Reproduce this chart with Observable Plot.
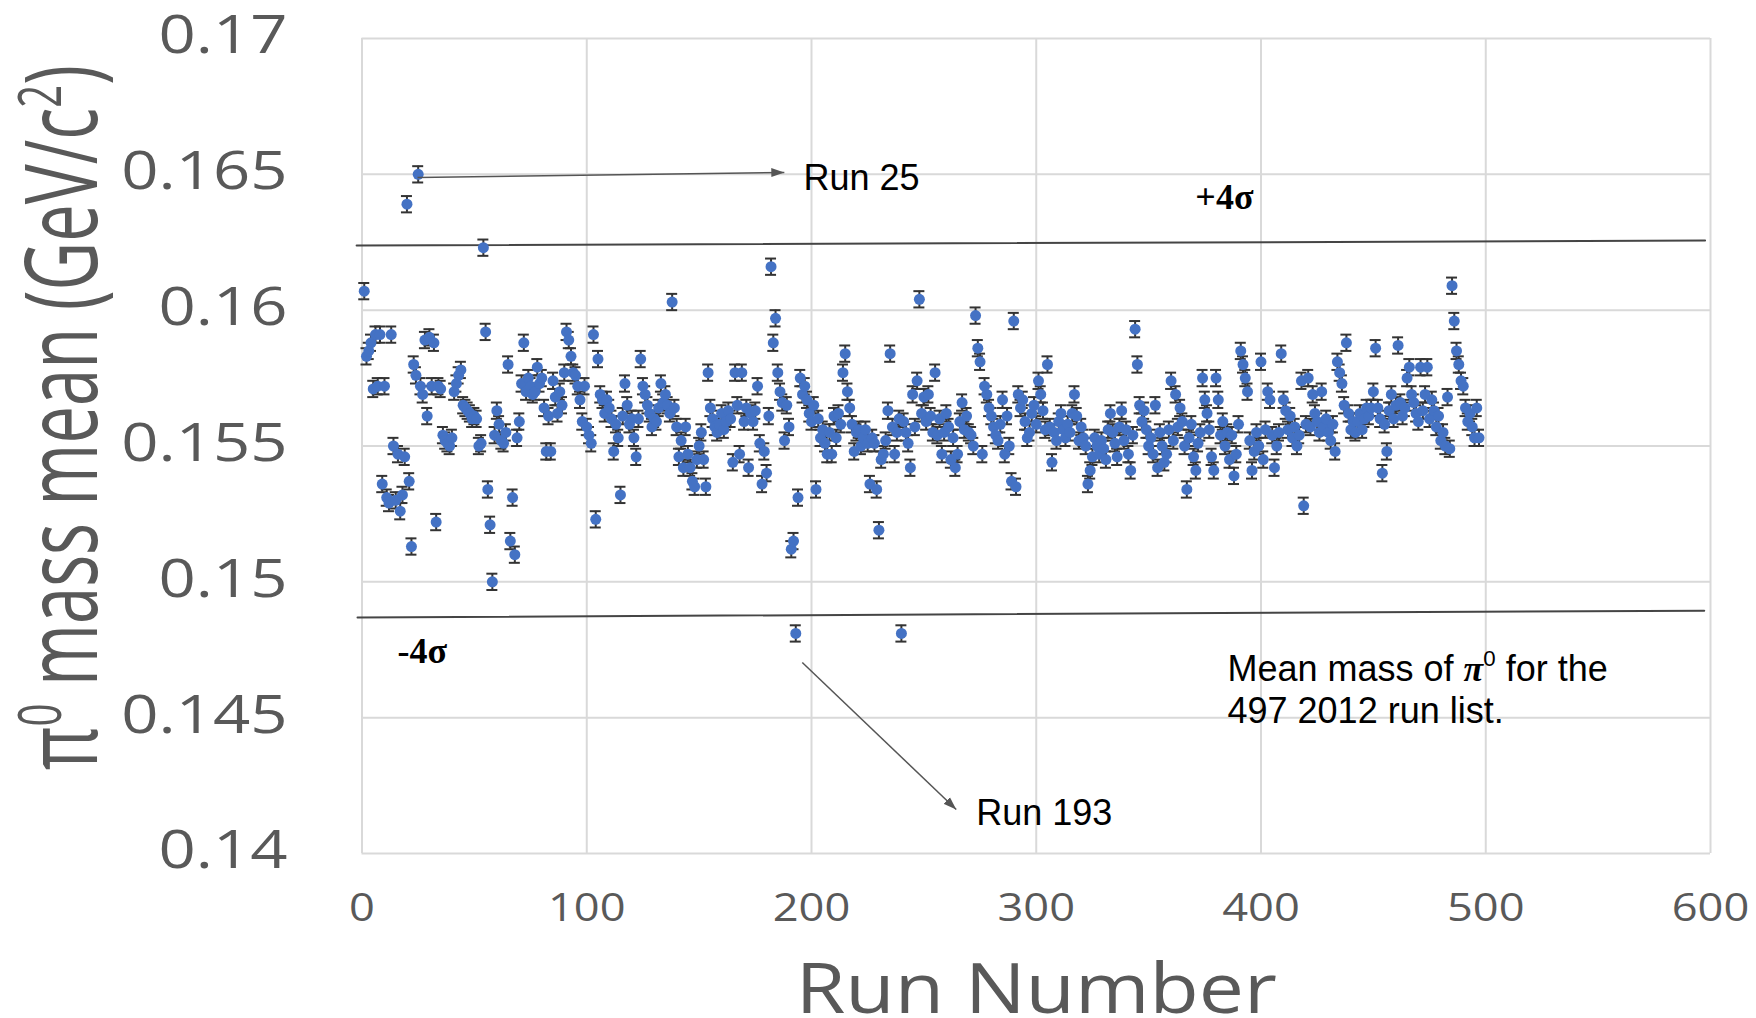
<!DOCTYPE html>
<html>
<head>
<meta charset="utf-8">
<script src="https://cdn.jsdelivr.net/npm/d3@7"></script>
<script src="https://cdn.jsdelivr.net/npm/@observablehq/plot@0.6"></script>
<style>
  html, body { margin: 0; padding: 0; background: #ffffff; }
  #chart { width: 1756px; height: 1018px; }
</style>
</head>
<body>
<div id="chart"></div>
<script>
// Mean π0 mass (GeV/c²) per run, runs 1 … 497 of the 2012 list
const massMean = [
  0.1607, 0.1583, 0.1585, 0.1588, 0.1571, 0.1591, 0.1572, 0.1591, 0.1536, 0.1572,
  0.1531, 0.1529, 0.1591, 0.1550, 0.1530, 0.1547, 0.1526, 0.1532, 0.1546, 0.1639,
  0.1537, 0.1513, 0.1580, 0.1576, 0.1650, 0.1572, 0.1569, 0.1589, 0.1561, 0.1590,
  0.1572, 0.1588, 0.1522, 0.1572, 0.1571, 0.1554, 0.1552, 0.1551, 0.1550, 0.1553,
  0.1570, 0.1573, 0.1576, 0.1578, 0.1565, 0.1564, 0.1563, 0.1562, 0.1560, 0.1561,
  0.1560, 0.1550, 0.1551, 0.1623, 0.1592, 0.1534, 0.1521, 0.1500, 0.1554, 0.1563,
  0.1558, 0.1552, 0.1551, 0.1555, 0.1580, 0.1515, 0.1531, 0.1510, 0.1553, 0.1559,
  0.1573, 0.1588, 0.1570, 0.1575, 0.1572, 0.1569, 0.1570, 0.1579, 0.1573, 0.1575,
  0.1564, 0.1548, 0.1561, 0.1548, 0.1574, 0.1568, 0.1562, 0.1570, 0.1565, 0.1577,
  0.1592, 0.1589, 0.1583, 0.1577, 0.1576, 0.1572, 0.1567, 0.1559, 0.1572, 0.1557,
  0.1554, 0.1551, 0.1591, 0.1523, 0.1582, 0.1569, 0.1567, 0.1562, 0.1567, 0.1564,
  0.1560, 0.1548, 0.1558, 0.1553, 0.1532, 0.1561, 0.1573, 0.1565, 0.1558, 0.1560,
  0.1553, 0.1546, 0.1560, 0.1582, 0.1572, 0.1569, 0.1565, 0.1562, 0.1557, 0.1560,
  0.1559, 0.1564, 0.1573, 0.1566, 0.1569, 0.1565, 0.1562, 0.1603, 0.1564, 0.1557,
  0.1546, 0.1552, 0.1542, 0.1557, 0.1547, 0.1542, 0.1537, 0.1535, 0.1545, 0.1550,
  0.1555, 0.1545, 0.1535, 0.1577, 0.1564, 0.1560, 0.1557, 0.1555, 0.1558, 0.1562,
  0.1556, 0.1559, 0.1563, 0.1560, 0.1544, 0.1577, 0.1565, 0.1547, 0.1577, 0.1559,
  0.1564, 0.1542, 0.1562, 0.1559, 0.1563, 0.1572, 0.1551, 0.1536, 0.1548, 0.1540,
  0.1561, 0.1616, 0.1588, 0.1597, 0.1577, 0.1570, 0.1566, 0.1552, 0.1565, 0.1557,
  0.1512, 0.1515, 0.1481, 0.1531, 0.1575, 0.1569, 0.1572, 0.1567, 0.1562, 0.1559,
  0.1565, 0.1534, 0.1560, 0.1553, 0.1556, 0.1551, 0.1547, 0.1555, 0.1547, 0.1561,
  0.1553, 0.1562, 0.1558, 0.1577, 0.1584, 0.1570, 0.1564, 0.1558, 0.1548, 0.1555,
  0.1556, 0.1550, 0.1553, 0.1556, 0.1551, 0.1536, 0.1553, 0.1551, 0.1534, 0.1519,
  0.1545, 0.1547, 0.1552, 0.1563, 0.1584, 0.1557, 0.1547, 0.1555, 0.1560, 0.1481,
  0.1559, 0.1555, 0.1551, 0.1542, 0.1569, 0.1557, 0.1574, 0.1604, 0.1562, 0.1568,
  0.1559, 0.1569, 0.1561, 0.1555, 0.1577, 0.1554, 0.1560, 0.1547, 0.1555, 0.1562,
  0.1557, 0.1545, 0.1553, 0.1542, 0.1547, 0.1559, 0.1566, 0.1556, 0.1561, 0.1555,
  0.1554, 0.1550, 0.1598, 0.1586, 0.1581, 0.1547, 0.1572, 0.1569, 0.1564, 0.1561,
  0.1557, 0.1554, 0.1552, 0.1558, 0.1567, 0.1547, 0.1561, 0.1550, 0.1537, 0.1596,
  0.1535, 0.1569, 0.1564, 0.1567, 0.1559, 0.1553, 0.1555, 0.1562, 0.1565, 0.1558,
  0.1574, 0.1569, 0.1563, 0.1556, 0.1580, 0.1557, 0.1544, 0.1555, 0.1552, 0.1559,
  0.1562, 0.1556, 0.1553, 0.1558, 0.1555, 0.1562, 0.1569, 0.1561, 0.1552, 0.1557,
  0.1553, 0.1550, 0.1536, 0.1541, 0.1546, 0.1553, 0.1550, 0.1547, 0.1552, 0.1549,
  0.1545, 0.1556, 0.1562, 0.1555, 0.1551, 0.1546, 0.1557, 0.1563, 0.1552, 0.1556,
  0.1547, 0.1541, 0.1554, 0.1593, 0.1580, 0.1565, 0.1559, 0.1563, 0.1556, 0.1550,
  0.1553, 0.1547, 0.1565, 0.1542, 0.1555, 0.1550, 0.1544, 0.1547, 0.1556, 0.1574,
  0.1552, 0.1569, 0.1557, 0.1564, 0.1559, 0.1550, 0.1534, 0.1553, 0.1558, 0.1546,
  0.1541, 0.1551, 0.1555, 0.1575, 0.1567, 0.1562, 0.1556, 0.1546, 0.1541, 0.1575,
  0.1567, 0.1554, 0.1559, 0.1550, 0.1555, 0.1545, 0.1554, 0.1539, 0.1547, 0.1558,
  0.1585, 0.1580, 0.1575, 0.1570, 0.1552, 0.1541, 0.1548, 0.1555, 0.1550, 0.1581,
  0.1545, 0.1556, 0.1570, 0.1567, 0.1554, 0.1542, 0.1550, 0.1555, 0.1584, 0.1567,
  0.1563, 0.1556, 0.1561, 0.1553, 0.1557, 0.1550, 0.1554, 0.1574, 0.1528, 0.1558,
  0.1575, 0.1557, 0.1569, 0.1562, 0.1559, 0.1555, 0.1570, 0.1557, 0.1560, 0.1555,
  0.1552, 0.1558, 0.1548, 0.1581, 0.1577, 0.1573, 0.1565, 0.1588, 0.1562, 0.1556,
  0.1559, 0.1555, 0.1559, 0.1562, 0.1556, 0.1560, 0.1564, 0.1561, 0.1564, 0.1570,
  0.1586, 0.1564, 0.1560, 0.1540, 0.1558, 0.1548, 0.1563, 0.1569, 0.1560, 0.1565,
  0.1587, 0.1566, 0.1561, 0.1564, 0.1575, 0.1579, 0.1569, 0.1566, 0.1562, 0.1559,
  0.1579, 0.1563, 0.1569, 0.1579, 0.1560, 0.1567, 0.1563, 0.1557, 0.1561, 0.1552,
  0.1555, 0.1550, 0.1568, 0.1549, 0.1609, 0.1596, 0.1585, 0.1580, 0.1574, 0.1572,
  0.1564, 0.1559, 0.1562, 0.1557, 0.1553, 0.1564, 0.1553
];
const runNumber = massMean.map((_, i) => i + 1);
// Statistical uncertainty on each fitted mean (GeV/c²)
const massError = 0.0003;

// Axis ticks
const xTicks = [0, 100, 200, 300, 400, 500, 600];
const yTicks = [0.14, 0.145, 0.15, 0.155, 0.16, 0.165, 0.17];

// ±4σ band edges, drawn as guide lines across the run range
const plusSigmaRun = [-2.4, 597.6];
const plusSigmaMass = [0.16238, 0.16256];
const minusSigmaRun = [-2.0, 597.2];
const minusSigmaMass = [0.14869, 0.14894];
const sigmaLabels = ["+4σ", "-4σ"];
const sigmaLabelRun = [370.8, 15.8];
const sigmaLabelMass = [0.16415, 0.14744];

// Call-outs for the two outlier runs
const calloutText = ["Run 25", "Run 193"];
const calloutRun = [196.4, 273.3];
const calloutMass = [0.16485, 0.14147];
const arrowFromRun = [24.7, 195.9];
const arrowFromMass = [0.16488, 0.14703];
const arrowToRun = [187.9, 264.4];
const arrowToMass = [0.16507, 0.14162];

// Caption inside the plot area
const captionLines = ["Mean mass of π0 for the", "497 2012 run list."];
const captionRun = [385.1, 385.1];
const captionMass = [0.14677, 0.14523];

const xTitle = "Run Number";
const yTitle = "π0 mass mean (GeV/c2)";

const runs = runNumber.map((r, i) => ({run: r, mass: massMean[i]}));
const plusLine = plusSigmaRun.map((r, i) => [r, plusSigmaMass[i]]);
const minusLine = minusSigmaRun.map((r, i) => [r, minusSigmaMass[i]]);
const sigmaNotes = sigmaLabels.map((t, i) => ({t, run: sigmaLabelRun[i], mass: sigmaLabelMass[i]}));
const callouts = calloutText.map((t, i) => ({t, run: calloutRun[i], mass: calloutMass[i]}));
const arrows = arrowFromRun.map((r, i) => ({x1: r, y1: arrowFromMass[i], x2: arrowToRun[i], y2: arrowToMass[i]}));
const caption = captionLines.map((t, i) => ({t, run: captionRun[i], mass: captionMass[i]}));

const axisGray = "#595959";
const gridGray = "#d9d9d9";
const ink = "#333333";
const sans = "'Open Sans', 'Segoe UI', sans-serif";
const arial = "'Liberation Sans', Arial, sans-serif";
const serif = "'Liberation Serif', 'Times New Roman', serif";

const chart = Plot.plot({
  width: 1756,
  height: 1018,
  marginLeft: 361.5,
  marginRight: 46,
  marginTop: 38,
  marginBottom: 165,
  style: {background: "#ffffff", color: axisGray, fontFamily: sans, overflow: "visible"},
  x: {domain: [0, 600], label: null},
  y: {domain: [0.14, 0.17], label: null},
  marks: [
    Plot.gridX(xTicks, {stroke: gridGray, strokeOpacity: 1, strokeWidth: 2}),
    Plot.gridY(yTicks, {stroke: gridGray, strokeOpacity: 1, strokeWidth: 2}),
    Plot.axisX(xTicks, {tickSize: 0, tickPadding: 40, fontSize: 39, fill: axisGray, fontFamily: sans,
      tickFormat: d => String(d), label: null}),
    Plot.axisY(yTicks, {tickSize: 0, tickPadding: 74.5, fontSize: 53, fill: axisGray, fontFamily: sans,
      dy: -2, tickFormat: d => String(+d.toFixed(3)), label: null}),

    // ±4σ guide lines
    Plot.line(plusLine, {stroke: "#454545", strokeWidth: 2}),
    Plot.line(minusLine, {stroke: "#454545", strokeWidth: 2}),

    // error bars with caps, then the markers
    Plot.ruleX(runs, {x: "run", y1: d => d.mass - massError, y2: d => d.mass + massError,
      stroke: ink, strokeWidth: 2}),
    Plot.ruleY(runs, {y: d => d.mass + massError, x1: "run", x2: "run",
      insetLeft: -5.5, insetRight: -5.5, stroke: ink, strokeWidth: 2}),
    Plot.ruleY(runs, {y: d => d.mass - massError, x1: "run", x2: "run",
      insetLeft: -5.5, insetRight: -5.5, stroke: ink, strokeWidth: 2}),
    Plot.dot(runs, {x: "run", y: "mass", r: 5.5, fill: "#4472c4", stroke: "none"}),

    // call-out arrows and labels
    Plot.link(arrows, {x1: "x1", y1: "y1", x2: "x2", y2: "y2", stroke: "#555555",
      strokeWidth: 1.5, markerEnd: "arrow"}),
    Plot.text(callouts, {x: "run", y: "mass", text: "t", textAnchor: "start", lineAnchor: "middle",
      fontSize: 36, fontFamily: arial, fill: "#000000"}),
    Plot.text(sigmaNotes, {x: "run", y: "mass", text: "t", textAnchor: "start", lineAnchor: "middle",
      fontSize: 36, fontFamily: serif, fontWeight: "bold", fill: "#000000"}),
    Plot.text(caption, {x: "run", y: "mass", text: "t", textAnchor: "start", lineAnchor: "middle",
      fontSize: 36, fontFamily: arial, fill: "#000000"}),

    // axis titles
    Plot.text([xTitle], {frameAnchor: "bottom", dy: 137, text: d => d, textAnchor: "middle",
      lineAnchor: "middle", fontSize: 70, fontFamily: sans, fill: axisGray}),
    Plot.text([yTitle], {frameAnchor: "left", dx: -297, dy: -28.5, rotate: -90, text: d => d,
      textAnchor: "middle", lineAnchor: "middle", fontSize: 67, fontFamily: sans, fill: axisGray})
  ]
});
document.getElementById("chart").append(chart);

const allText = Array.from(chart.querySelectorAll("text"));
const findText = s => allText.find(t => t.textContent === s);

// Axis lettering is set slightly wide
function widen(el, sx, sy) {
  if (!el) return;
  const tr = el.getAttribute("transform") || "";
  el.setAttribute("transform", `${tr} scale(${sx},${sy})`);
}
chart.querySelectorAll('g[aria-label="x-axis tick label"] text').forEach(t => widen(t, 1.16, 1));
chart.querySelectorAll('g[aria-label="y-axis tick label"] text').forEach(t => widen(t, 1.23, 1));
widen(findText(xTitle), 1.15, 1);
const yTitleEl = findText(yTitle);
widen(yTitleEl, 1, 1.5);

// Superscripts and the italic π inside titles
const NS = "http://www.w3.org/2000/svg";
function rich(textEl, parts, size, lift = 0.42, supScale = 0.62) {
  if (!textEl) return;
  while (textEl.firstChild) textEl.removeChild(textEl.firstChild);
  let shift = 0;
  for (const p of parts) {
    const ts = document.createElementNS(NS, "tspan");
    ts.textContent = p.t;
    const target = p.sup ? -lift * size : 0;
    if (target !== shift) { ts.setAttribute("dy", target - shift); shift = target; }
    if (p.sup) ts.setAttribute("font-size", supScale * size);
    if (p.pi) {
      ts.setAttribute("font-family", serif);
      ts.setAttribute("font-style", "italic");
      ts.setAttribute("font-weight", "bold");
    }
    textEl.appendChild(ts);
  }
}
rich(yTitleEl, [{t: "π"}, {t: "0", sup: true}, {t: " mass mean (GeV/c"}, {t: "2", sup: true}, {t: ")"}], 67, 0.36, 0.6);
rich(findText(captionLines[0]), [{t: "Mean mass of "}, {t: "π", pi: true}, {t: "0", sup: true}, {t: " for the"}], 36);

// Solid triangular heads on the call-out arrows
chart.querySelectorAll("marker").forEach(m => {
  const color = m.getAttribute("stroke") || "#555555";
  m.setAttribute("viewBox", "-13 -5 14 10");
  m.setAttribute("markerUnits", "userSpaceOnUse");
  m.setAttribute("markerWidth", 14);
  m.setAttribute("markerHeight", 10);
  m.setAttribute("fill", color);
  m.setAttribute("stroke", "none");
  const p = m.querySelector("path");
  if (p) p.setAttribute("d", "M-13,-4.5L0,0L-13,4.5Z");
});
</script>
</body>
</html>
